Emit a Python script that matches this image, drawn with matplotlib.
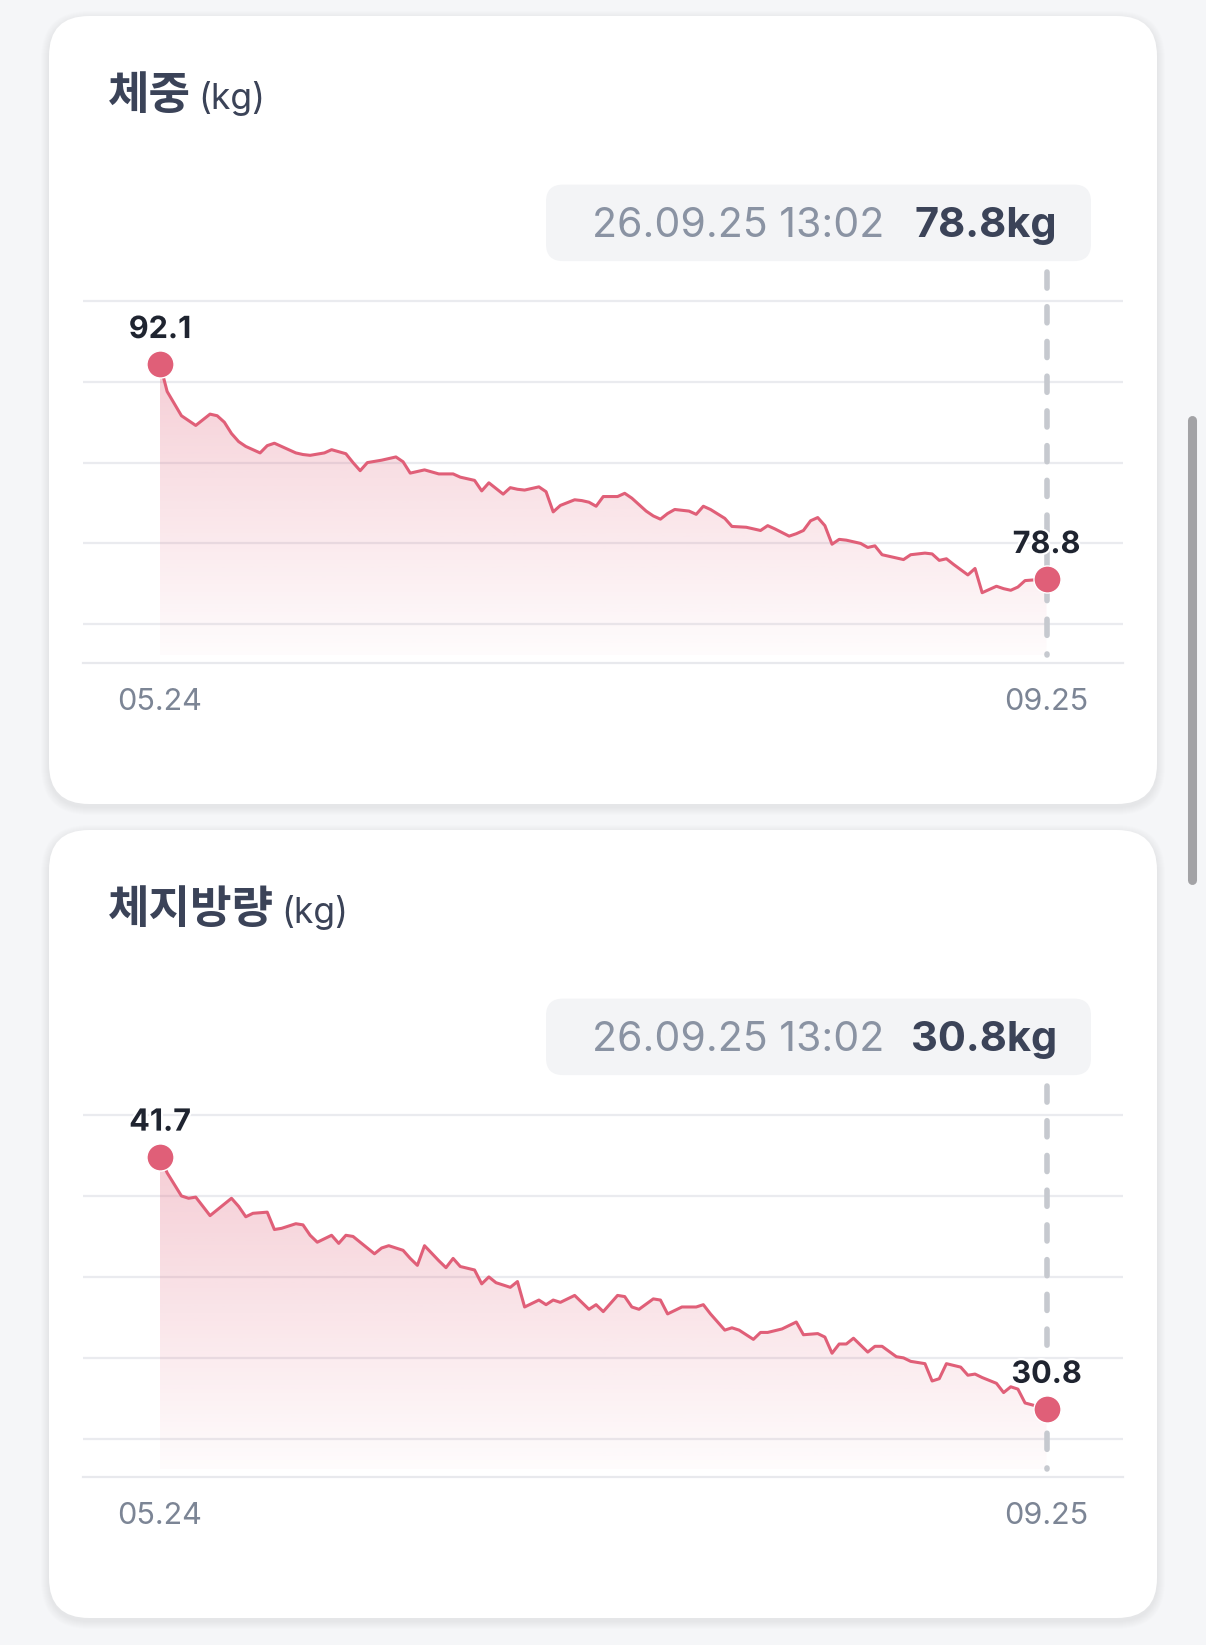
import numpy as np
import matplotlib.pyplot as plt
import matplotlib.patheffects as pe
from matplotlib.patches import FancyBboxPatch, Polygon
from matplotlib.colors import to_rgb

plt.rcParams['font.family'] = ['Inter', 'Noto Sans CJK KR', 'DejaVu Sans']

W, H = 1206, 1645

# x = days since 05.24 (day 124 = 09.25)
days_w = [0, 1, 3, 5, 7, 8, 9, 10, 11, 12, 14, 15, 16, 17, 18, 19, 20, 21, 23, 24,
          26, 27, 28, 29, 31, 33, 34, 35, 37, 39, 41, 42, 44, 45, 46, 48, 49, 50, 51, 53,
          54, 55, 56, 58, 59, 60, 61, 62, 64, 65, 66, 68, 69, 70, 71, 72, 74, 75, 76, 77,
          79, 80, 82, 83, 84, 85, 86, 88, 89, 90, 91, 92, 93, 94, 95, 96, 98, 99, 100, 101,
          102, 104, 105, 107, 108, 109, 110, 111, 113, 114, 115, 117, 118, 119, 120, 121, 124]
weight = [92.1, 90.4, 88.9, 88.3, 89.0, 88.9, 88.5, 87.8, 87.3, 87.0, 86.6, 87.05, 87.2, 87.0, 86.8, 86.6, 86.5, 86.45, 86.6, 86.8,
          86.55, 86.0, 85.5, 86.0, 86.15, 86.35, 86.05, 85.35, 85.55, 85.3, 85.3, 85.1, 84.9, 84.25, 84.75, 84.05, 84.45, 84.35, 84.3, 84.5,
          84.2, 82.95, 83.35, 83.7, 83.65, 83.55, 83.3, 83.9, 83.9, 84.1, 83.8, 83.0, 82.7, 82.5, 82.85, 83.1, 83.0, 82.8, 83.3, 83.1,
          82.55, 82.05, 82.0, 81.9, 81.8, 82.1, 81.9, 81.45, 81.6, 81.8, 82.4, 82.6, 82.1, 80.95, 81.25, 81.2, 81.0, 80.75, 80.85, 80.3,
          80.2, 80.0, 80.3, 80.4, 80.35, 79.95, 80.05, 79.7, 79.05, 79.45, 77.95, 78.35, 78.2, 78.1, 78.3, 78.7, 78.8]

days_f = [0, 1, 3, 4, 5, 6, 7, 9, 10, 11, 12, 13, 15, 16, 17, 19, 20, 21, 22, 24,
          25, 26, 27, 29, 30, 31, 32, 34, 35, 36, 37, 39, 40, 41, 42, 44, 45, 46, 47, 49,
          50, 51, 53, 54, 55, 56, 58, 60, 61, 62, 64, 65, 66, 67, 69, 70, 71, 73, 75, 76,
          77, 79, 80, 81, 83, 84, 85, 87, 89, 90, 92, 93, 94, 95, 96, 97, 99, 100, 101, 103,
          104, 105, 107, 108, 109, 110, 112, 113, 114, 115, 117, 118, 119, 120, 121, 124]
fat = [41.7, 41.0, 40.0, 39.9, 39.95, 39.55, 39.15, 39.65, 39.9, 39.55, 39.1, 39.25, 39.3, 38.55, 38.6, 38.8, 38.75, 38.3, 38.0, 38.3,
       37.95, 38.3, 38.25, 37.75, 37.5, 37.75, 37.85, 37.65, 37.3, 37.0, 37.85, 37.2, 36.9, 37.3, 36.95, 36.8, 36.2, 36.5, 36.25, 36.05,
       36.3, 35.2, 35.5, 35.3, 35.5, 35.4, 35.7, 35.1, 35.3, 35.0, 35.7, 35.65, 35.2, 35.1, 35.55, 35.5, 34.9, 35.2, 35.2, 35.3,
       34.9, 34.2, 34.3, 34.2, 33.8, 34.1, 34.1, 34.25, 34.55, 34.0, 34.05, 33.9, 33.2, 33.6, 33.6, 33.85, 33.25, 33.5, 33.5, 33.05,
       33.0, 32.85, 32.75, 32.0, 32.1, 32.75, 32.6, 32.25, 32.3, 32.15, 31.9, 31.5, 31.75, 31.65, 31.05, 30.8]

titles = ['체중', '체지방량']
unit = '(kg)'
tick_labels = ['05.24', '09.25']
stamp = '26.09.25 13:02'
grid_w = [76, 81, 86, 91, 96]
grid_f = [29.5, 33, 36.5, 40, 43.5]
ylim_w = (73.6, 96)
ylim_f = (27.85, 43.5)

BG = '#f5f6f8'
RED = '#e05f78'
INK = '#3b4358'
GREY = '#7c8595'

fig = plt.figure(figsize=(W / 100, H / 100), dpi=100, facecolor=BG)
bg = fig.add_axes([0, 0, 1, 1])
bg.set_xlim(0, W)
bg.set_ylim(H, 0)
bg.axis('off')

# scrollbar
bg.plot([1192, 1192], [420, 880], color='#a3a3a6', lw=6.5, solid_capstyle='round')


def chart(off, days, vals, grid, ylim, title):
    # card with a soft shadow
    for i in range(8, 0, -1):
        bg.add_patch(FancyBboxPatch((49 - i, 16 + off - i + 3), 1108 + 2 * i, 788 + 2 * i,
                                    boxstyle=f'round,pad=0,rounding_size={40 + i}',
                                    fc=(0.2, 0.25, 0.35, 0.007), ec='none'))
    bg.add_patch(FancyBboxPatch((49, 16 + off), 1108, 788,
                                boxstyle='round,pad=0,rounding_size=40', fc='white', ec='none'))

    t = bg.text(108, 109 + off, title, fontsize=32.5, fontweight='bold', color=INK,
                family=['Noto Sans CJK KR'], va='baseline')
    bg.annotate(unit, xy=(1, 109 + off), xycoords=(t, 'data'), xytext=(7, 0),
                textcoords='offset pixels', fontsize=25.5, color=INK, va='baseline')

    # tooltip
    bg.add_patch(FancyBboxPatch((546, 184.6 + off), 545, 76.5,
                                boxstyle='round,pad=0,rounding_size=17', fc='#f3f4f6', ec='none'))
    bg.text(884, 226 + off, stamp, fontsize=29.5, color='#8a93a3', ha='right', va='center')
    bg.text(1057, 226 + off, f'{vals[-1]}kg', fontsize=30, fontweight='bold', color=INK,
            ha='right', va='center')

    ax = fig.add_axes([83.5 / W, 1 - (663 + off) / H, (1123 - 83.5) / W, 362 / H])
    ax.patch.set_visible(False)
    x0, x1 = -10.7, 134.7
    ax.hlines(grid, x0, x1, colors='#eaebef', lw=1.6, clip_on=False, zorder=0)
    for s in ['top', 'left', 'right']:
        ax.spines[s].set_visible(False)
    ax.spines['bottom'].set_color('#e8e9ed')
    ax.spines['bottom'].set_linewidth(1.6)
    ax.set_xticks([])
    ax.set_yticks([])

    # gradient area
    base = ylim[0] + 0.022 * (ylim[1] - ylim[0])
    grad = np.zeros((256, 1, 4))
    grad[..., :3] = to_rgb(RED)
    grad[:, 0, 3] = np.linspace(0.02, 0.31, 256)
    verts = [(days[0], base)] + list(zip(days, vals)) + [(days[-1], base)]
    clip = Polygon(verts, closed=True, fc='none', ec='none')
    ax.add_patch(clip)
    im = ax.imshow(grad, extent=[days[0], days[-1], base, max(vals)], origin='lower',
                   aspect='auto', zorder=1)
    im.set_clip_path(clip)

    ax.plot(days, vals, color=RED, lw=2.2, zorder=3, solid_joinstyle='round',
            solid_capstyle='round')
    # dashed marker line, drawn top -> bottom
    ax.plot([days[-1], days[-1]], [1.08, 0.022], transform=ax.get_xaxis_transform(),
            color='#c6c9cf', lw=4.0, dashes=(2.9, 3.35), dash_capstyle='round',
            clip_on=False, zorder=2)
    ax.scatter([days[0], days[-1]], [vals[0], vals[-1]], s=19.5 ** 2, c=RED,
               edgecolors='white', linewidths=1.0, zorder=5, clip_on=False)
    for d, v in [(days[0], vals[0]), (days[-1], vals[-1])]:
        ax.annotate(f'{v}', (d, v), xytext=(0, 34), textcoords='offset pixels', ha='center',
                    va='center', fontsize=22, fontweight='bold', color='#1f2430', zorder=6,
                    path_effects=[pe.withStroke(linewidth=3, foreground='white')])
    for d, lbl in zip([days[0], days[-1]], tick_labels):
        ax.annotate(lbl, (d, 0), xycoords=ax.get_xaxis_transform(), xytext=(0, -38.5),
                    textcoords='offset pixels', ha='center', va='center', fontsize=22, color=GREY)

    ax.set_xlim(x0, x1)
    ax.set_ylim(*ylim)


chart(0, days_w, weight, grid_w, ylim_w, titles[0])
chart(814, days_f, fat, grid_f, ylim_f, titles[1])

fig.savefig('out.png', dpi=100, facecolor=BG)
